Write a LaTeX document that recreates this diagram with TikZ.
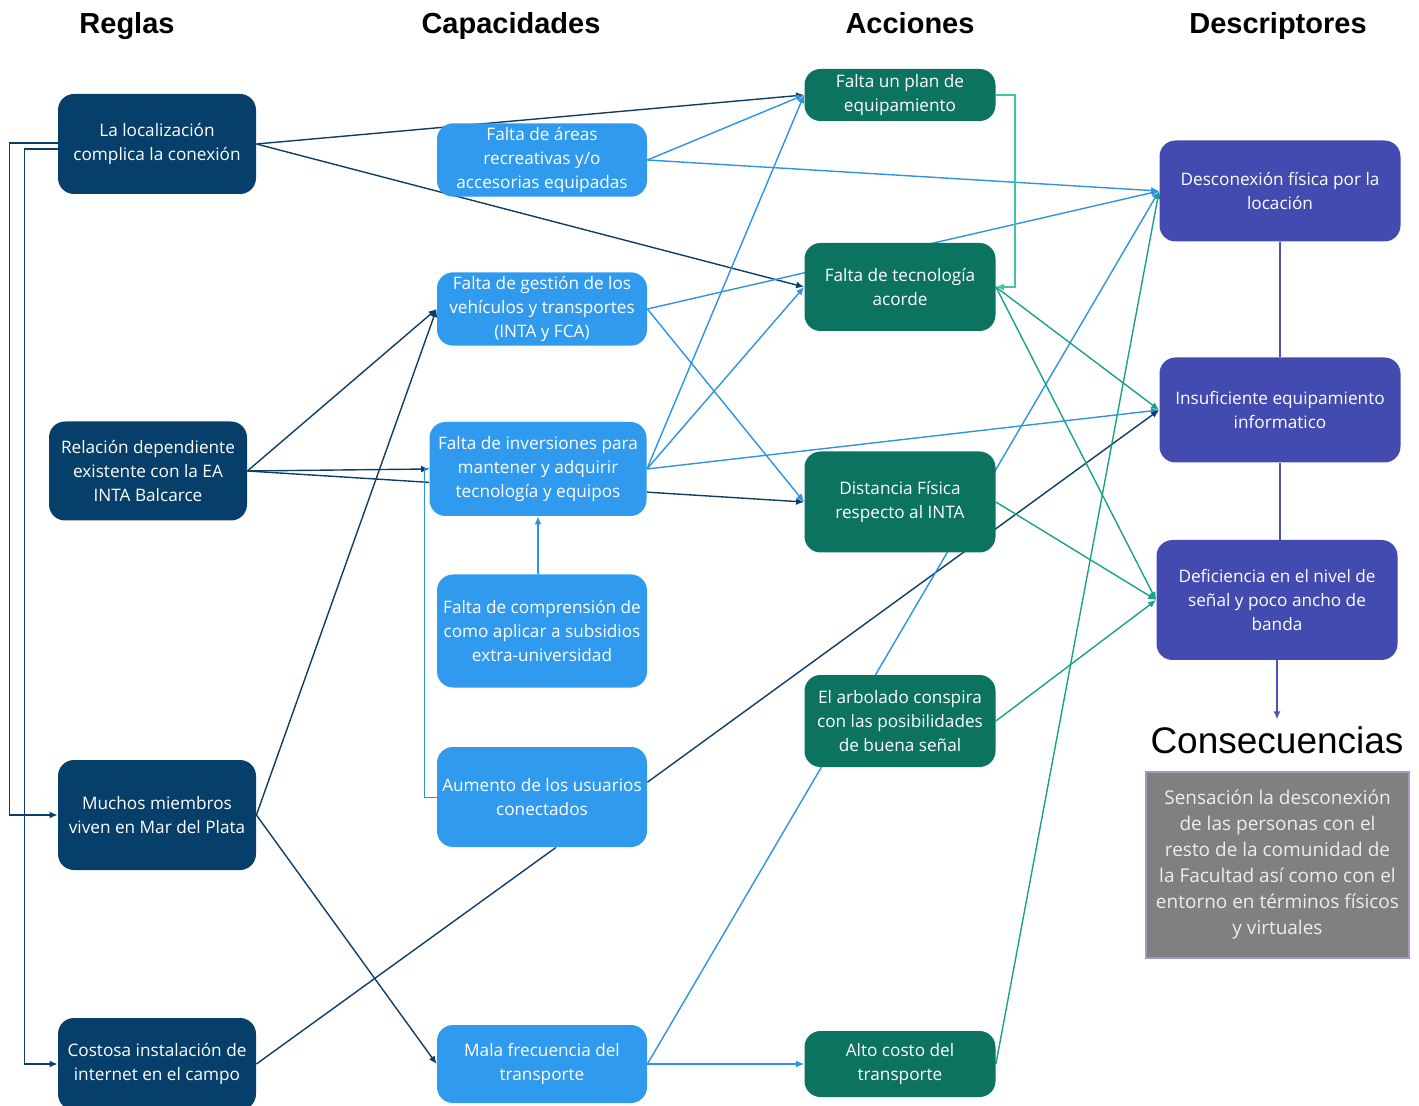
\documentclass[tikz,border=0pt]{standalone}
\usepackage{fontspec}
\setmainfont{Open Sans}
\newfontfamily\headfont{Liberation Sans}
\usetikzlibrary{arrows.meta}
\definecolor{colRegla}{HTML}{073F6B}
\definecolor{colCapac}{HTML}{2F9AEE}
\definecolor{colAccion}{HTML}{0B7360}
\definecolor{colDescr}{HTML}{434AB0}
\definecolor{colGris}{HTML}{808080}
\definecolor{colBorde}{HTML}{A596C4}
\definecolor{colTextoGris}{HTML}{EDEDED}
\definecolor{lnOscuro}{HTML}{0E3D66}
\definecolor{lnClaro}{HTML}{2F93E3}
\definecolor{lnVerde}{HTML}{1AA287}
\definecolor{lnMenta}{HTML}{3FC7A4}
\definecolor{lnIndigo}{HTML}{4B52B8}
\pgfdeclarelayer{fondo}
\pgfsetlayers{fondo,main}
\tikzset{
  caja/.style={rounded corners=8pt, text=white, align=center,
    font=\fontsize{8.6}{12}\selectfont, inner sep=2pt},
  regla/.style={caja, fill=colRegla, minimum width=99pt},
  capac/.style={caja, fill=colCapac, minimum width=105pt},
  accion/.style={caja, fill=colAccion, minimum width=95.5pt},
  descr/.style={caja, fill=colDescr, minimum width=120.5pt},
  titulo/.style={anchor=base, font=\headfont\bfseries\fontsize{14.5}{17}\selectfont},
  flecha/.style={-{Latex[length=4pt,width=3.5pt]}},
  oscuro/.style={draw=lnOscuro, line width=0.7pt},
  claro/.style={draw=lnClaro, line width=0.7pt},
  verde/.style={draw=lnVerde, line width=0.7pt},
  menta/.style={draw=lnMenta, line width=0.7pt},
  indigo/.style={draw=lnIndigo, line width=0.7pt}
}
\begin{document}
\begin{tikzpicture}[x=0.5pt,y=-0.5pt]
  \useasboundingbox (0,0) rectangle (1419,1106);
  % titulos
  \node[titulo] (tReglas) at (127,34) {Reglas};
  \node[titulo] (tCapac) at (511,34) {Capacidades};
  \node[titulo] (tAcciones) at (910,34) {Acciones};
  \node[titulo] (tDescr) at (1278,34) {Descriptores};
  % reglas
  \node[regla, minimum height=50pt] (R1) at (157,144) {La localización\\complica la conexión};
  \node[regla, minimum height=49.5pt] (R2) at (148,471) {Relación dependiente\\existente con la EA\\INTA Balcarce};
  \node[regla, minimum height=55pt] (R3) at (157,815) {Muchos miembros\\viven en Mar del Plata};
  \node[regla, minimum height=46pt] (R4) at (157,1064) {Costosa instalación de\\internet en el campo};
  % capacidades
  \node[capac, minimum height=36pt] (C1) at (542,160) {Falta de áreas\\recreativas y/o\\accesorias equipadas};
  \node[capac, minimum height=36pt] (C2) at (542,309) {Falta de gestión de los\\vehículos y  transportes\\(INTA y FCA)};
  \node[capac, minimum width=108.5pt, minimum height=47pt] (C3) at (538,469) {Falta de inversiones para\\mantener y adquirir\\tecnología y equipos};
  \node[capac, minimum height=56.5pt] (C4) at (542,631) {Falta de comprensión de\\como aplicar a subsidios\\extra-universidad};
  \node[capac, minimum height=50pt] (C5) at (542,797) {Aumento de los usuarios\\conectados};
  \node[capac, minimum height=39pt] (C6) at (542,1064) {Mala frecuencia del\\transporte};
  % acciones
  \node[accion, minimum height=26pt] (A1) at (900,95) {Falta un plan de\\equipamiento};
  \node[accion, minimum height=44pt] (A2) at (900,287) {Falta de tecnología\\acorde};
  \node[accion, minimum height=50.5pt] (A3) at (900,502) {Distancia Física\\respecto al INTA};
  \node[accion, minimum height=46pt] (A4) at (900,721) {El arbolado conspira\\con las posibilidades\\de buena señal};
  \node[accion, minimum height=33pt] (A5) at (900,1064) {Alto costo del\\transporte};
  % descriptores
  \node[descr, minimum height=50.5pt] (D1) at (1280,191) {Desconexión física por la\\locación};
  \node[descr, minimum height=52.5pt] (D2) at (1280,410) {Insuficiente equipamiento\\informatico};
  \node[descr, minimum height=60pt] (D3) at (1277,600) {Deficiencia en el nivel de\\señal y poco ancho de\\banda};
  % consecuencias
  \node[font=\headfont\fontsize{18.5}{22}\selectfont] (cons) at (1277,740) {Consecuencias};
  \node[fill=colGris, draw=colBorde, line width=0.6pt, minimum width=131.5pt, minimum height=93pt,
    text=colTextoGris, align=center, font=\fontsize{9.5}{13}\selectfont] (sens) at (1277.5,865)
    {Sensación la desconexión\\de las personas con el\\resto de la comunidad de\\la Facultad así como con el\\entorno en términos físicos\\y virtuales};
  \begin{pgfonlayer}{fondo}
  % reglas
  \draw[oscuro,flecha] (R1.east) -- (A1.west);
  \draw[oscuro,flecha] (R1.east) -- (A2.west);
  \draw[oscuro,flecha] ([yshift=0.5pt]R1.west) -- ++(-48,0) |- (R3.west);
  \draw[oscuro,flecha] ([yshift=-2.5pt]R1.west) -- ++(-33,0) |- (R4.west);
  \draw[oscuro,flecha] (R2.east) -- (C2.west);
  \draw[oscuro,flecha] (R2.east) -- (C3.west);
  \draw[oscuro] (R2.east) -- (C3.-173);
  \draw[oscuro,flecha] (R3.east) -- (C2.west);
  \draw[oscuro,flecha] (R3.east) -- (C6.west);
  \draw[oscuro] (R4.east) -- ([xshift=7pt]C5.south);
  % capacidades
  \draw[claro,flecha] (C1.east) -- (A1.west);
  \draw[claro,flecha] (C1.east) -- (D1.west);
  \draw[claro,flecha] (C2.east) -- (D1.west);
  \draw[claro,flecha] (C2.east) -- (A3.west);
  \draw[claro,flecha] (C3.east) -- (A1.west);
  \draw[claro,flecha] (C3.east) -- (A2.west);
  \draw[claro,flecha] (C3.east) -- (D2.west);
  \draw[oscuro,flecha] (C3.-12) -- (A3.west);
  \draw[claro,flecha] (C4.north -| C3.south) -- (C3.south);
  \draw[claro,line width=0.5pt] (C5.west) -| ([xshift=-2.5pt]C3.west) -- (C3.west);
  \draw[oscuro,flecha] (C5.8) -- (D2.west);
  \draw[claro,flecha] (C6.east) -- (A5.west);
  \draw[claro,flecha] (C6.east) -- (D1.west);
  % acciones
  \draw[menta,flecha] (A1.east) -- ++(19,0) |- (A2.east);
  \draw[verde,flecha] (A2.east) -- (D2.west);
  \draw[verde,flecha] (A2.east) -- (D3.west);
  \draw[verde,flecha] (A3.east) -- (D3.west);
  \draw[verde,flecha] (A4.east) -- (D3.west);
  \draw[verde,flecha] (A5.east) -- (D1.west);
  % descriptores
  \draw[indigo] (D1) -- (D2);
  \draw[indigo] (D2.south) -- (D2.south |- D3.north);
  \draw[indigo,flecha] (D3.south) -- (cons.north);
  \end{pgfonlayer}
\end{tikzpicture}
\end{document}
